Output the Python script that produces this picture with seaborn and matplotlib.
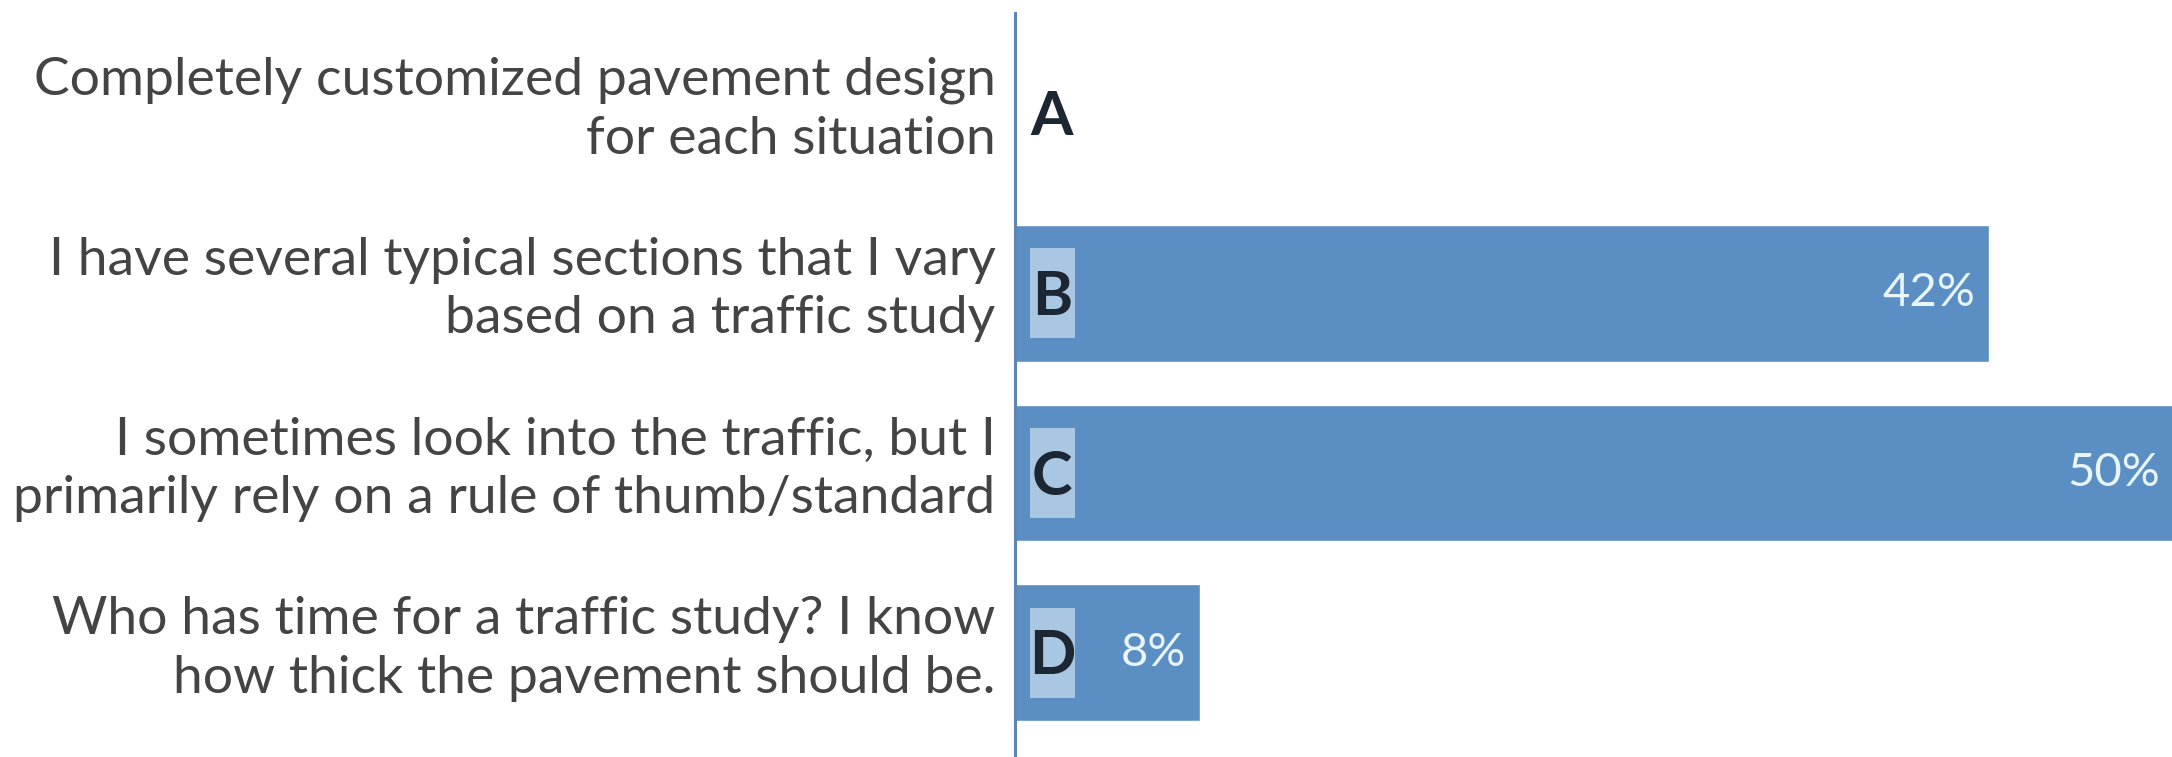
import matplotlib
matplotlib.use('Agg')
import matplotlib.pyplot as plt
import matplotlib.transforms as mtransforms
import seaborn as sns
import pandas as pd
from matplotlib.patches import Rectangle

# Poll answers and share of votes (%)
letters = ["A", "B", "C", "D"]
answers = [
    "Completely customized pavement design\nfor each situation",
    "I have several typical sections that I vary\nbased on a traffic study",
    "I sometimes look into the traffic, but I\nprimarily rely on a rule of thumb/standard",
    "Who has time for a traffic study? I know\nhow thick the pavement should be.",
]
shares = [0, 42, 50, 8]
share_labels = ["", "42%", "50%", "8%"]

BAR_COLOR = "#5b8fc3"
BOX_COLOR = "#a9c6e3"
TEXT_COLOR = "#444444"
LETTER_COLOR = "#1c2733"
PCT_COLOR = "#e8f5fb"

sns.set_theme(style="white")
plt.rcParams['font.family'] = ['Lato', 'DejaVu Sans']

df = pd.DataFrame({"answer": answers, "share": shares})

fig = plt.figure(figsize=(21.72, 7.57), dpi=100)
ax = fig.add_axes([0.4673, 0.0, 0.5327, 0.983])

sns.barplot(data=df, x="share", y="answer", orient="h", color=BAR_COLOR,
            saturation=1, width=0.76, ax=ax)

ax.set_xlim(0, 49.9)
ax.set_ylim(3.58, -0.56)
ax.set_xlabel("")
ax.set_ylabel("")
ax.set_xticks([])
ax.tick_params(axis="y", length=0, pad=14, labelsize=38.5, labelcolor=TEXT_COLOR)
# nudge the answer text a little above the bar centre, as in the poll slide
shift = mtransforms.ScaledTranslation(0, 10 / 72, fig.dpi_scale_trans)
for lbl in ax.get_yticklabels():
    lbl.set_multialignment("right")
    lbl.set_linespacing(1.3)
    lbl.set_transform(lbl.get_transform() + shift)

for s in ["top", "right", "bottom"]:
    ax.spines[s].set_visible(False)
ax.spines["left"].set_color("#5b86b8")
ax.spines["left"].set_linewidth(2.2)

for i, (letter, val, lab) in enumerate(zip(letters, shares, share_labels)):
    if val > 0:
        ax.add_patch(Rectangle((0.65, i - 0.25), 1.94, 0.5, facecolor=BOX_COLOR,
                               edgecolor="none", zorder=3))
        ax.annotate(lab, xy=(val, i), xytext=(-10, 0), textcoords="offset points",
                    ha="right", va="center", fontsize=34, color=PCT_COLOR,
                    zorder=4, annotation_clip=False)
    ax.text(1.6, i + 0.02, letter, ha="center", va="center", fontsize=44,
            fontweight="bold", color=LETTER_COLOR, zorder=4)

fig.savefig("out.png", dpi=100)
